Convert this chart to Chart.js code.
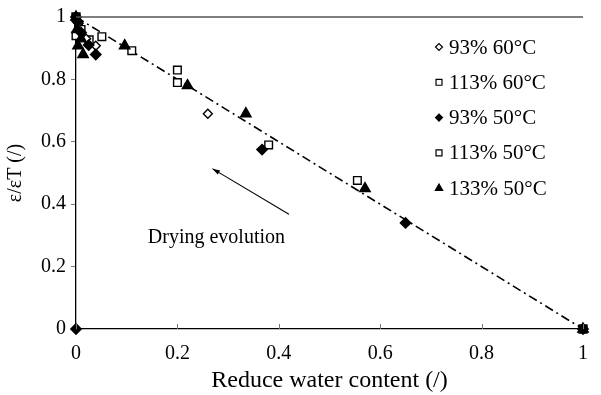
<!DOCTYPE html>
<html lang="en">
<head>
    <meta charset="UTF-8">
    <title>Drying evolution</title>
    <style>
        body { margin: 0; background: #fff; }
        #wrap { width: 601px; height: 395px; }
    </style>
</head>
<body>
    <div id="wrap"><canvas id="chart" width="601" height="395"></canvas></div>

    <script src="https://cdn.jsdelivr.net/npm/chart.js"></script>
    <script>
        // values: [reduce water content, eps/epsT]
        const s93_60 = [[0, 1], [0.005, 0.98], [0.02, 0.93], [0.039, 0.908], [0.26, 0.69]];
        const s113_60 = [[0, 1], [0.01, 0.96], [0.026, 0.927], [0.051, 0.937], [0.2, 0.83], [0.2, 0.79], [1, 0]];
        const s93_50 = [[0, 0], [0, 1], [0.003, 0.985], [0.01, 0.95], [0.025, 0.91], [0.039, 0.88], [0.367, 0.575], [0.65, 0.34], [1, 0]];
        const s113_50 = [[0, 0.94], [0, 1], [0.005, 0.97], [0.11, 0.892], [0.38, 0.59], [0.555, 0.476], [1, 0]];
        const s133_50 = [[0, 1], [0.002, 0.96], [0.004, 0.908], [0.01, 0.93], [0.014, 0.88], [0.096, 0.908], [0.22, 0.78], [0.335, 0.69], [0.57, 0.45], [1, 0]];
        const trend = [[0, 1], [1, 0]];

        const seriesNames = ['93% 60°C', '113% 60°C', '93% 50°C', '113% 50°C', '133% 50°C'];
        const xTicks = [0, 0.2, 0.4, 0.6, 0.8, 1];
        const yTicks = [0, 0.2, 0.4, 0.6, 0.8, 1];

        const FONT = '"Liberation Serif", "Times New Roman", serif';
        const toPts = arr => arr.map(p => ({ x: p[0], y: p[1] }));

        const markers = [
            { pointStyle: 'rectRot', bg: '#fff', r: 4.5 },
            { pointStyle: 'rect', bg: '#fff', r: 5.4 },
            { pointStyle: 'rectRot', bg: '#000', r: 5.2 },
            { pointStyle: 'rect', bg: '#fff', r: 5.4 },
            { pointStyle: 'triangle', bg: '#000', r: 6 }
        ];
        const seriesData = [s93_60, s113_60, s93_50, s113_50, s133_50];

        const datasets = seriesData.map((d, i) => ({
            label: seriesNames[i],
            data: toPts(d),
            pointStyle: markers[i].pointStyle,
            pointRadius: markers[i].r,
            pointBackgroundColor: markers[i].bg,
            pointBorderColor: '#000',
            pointBorderWidth: 1.4,
            showLine: false,
            clip: false,
            // filled markers on top, like the original
            order: markers[i].bg === '#000' ? 0 : 1
        }));
        datasets.push({
            type: 'line',
            label: 'trend',
            data: toPts(trend),
            borderColor: '#000',
            borderWidth: 1.6,
            borderDash: [9, 4, 2, 4],
            pointRadius: 0,
            fill: false,
            order: 2
        });

        const extras = {
            id: 'extras',
            afterDraw(chart) {
                const { ctx, chartArea: a, scales: { x, y } } = chart;
                ctx.save();
                // top line
                ctx.strokeStyle = '#555';
                ctx.lineWidth = 1.5;
                ctx.beginPath();
                ctx.moveTo(a.left, y.getPixelForValue(1));
                ctx.lineTo(a.right, y.getPixelForValue(1));
                ctx.stroke();
                // inward x ticks
                ctx.strokeStyle = '#777';
                ctx.lineWidth = 1;
                xTicks.forEach(v => {
                    const px = Math.round(x.getPixelForValue(v)) + 0.5;
                    ctx.beginPath();
                    ctx.moveTo(px, a.bottom);
                    ctx.lineTo(px, a.bottom - 5);
                    ctx.stroke();
                });
                // arrow
                const x0 = x.getPixelForValue(0.42), y0 = y.getPixelForValue(0.368);
                const x1 = x.getPixelForValue(0.269), y1 = y.getPixelForValue(0.514);
                ctx.strokeStyle = '#000';
                ctx.fillStyle = '#000';
                ctx.lineWidth = 1.1;
                ctx.beginPath();
                ctx.moveTo(x0, y0);
                ctx.lineTo(x1, y1);
                ctx.stroke();
                const ang = Math.atan2(y1 - y0, x1 - x0);
                ctx.beginPath();
                ctx.moveTo(x1, y1);
                ctx.lineTo(x1 - 8 * Math.cos(ang - 0.3), y1 - 8 * Math.sin(ang - 0.3));
                ctx.lineTo(x1 - 8 * Math.cos(ang + 0.3), y1 - 8 * Math.sin(ang + 0.3));
                ctx.closePath();
                ctx.fill();
                // annotation text
                ctx.font = '20px ' + FONT;
                ctx.textAlign = 'center';
                ctx.textBaseline = 'middle';
                ctx.fillText('Drying evolution', x.getPixelForValue(0.277), y.getPixelForValue(0.292));
                // legend inside plot
                ctx.font = '21px ' + FONT;
                ctx.textAlign = 'left';
                seriesNames.forEach((name, i) => {
                    const ly = 47 + i * 35.3;
                    ctx.lineWidth = 1.2;
                    ctx.strokeStyle = '#000';
                    ctx.fillStyle = markers[i].bg;
                    Chart.helpers.drawPoint(ctx, {
                        pointStyle: markers[i].pointStyle,
                        radius: markers[i].pointStyle === 'rectRot' ? 3.5 : 4.2,
                        borderWidth: 1.2
                    }, 439, ly);
                    ctx.fillStyle = '#000';
                    ctx.fillText(name, 449, ly + 1);
                });
                ctx.restore();
            }
        };

        new Chart(document.getElementById('chart'), {
            type: 'scatter',
            data: { datasets },
            options: {
                responsive: false,
                animation: false,
                layout: { padding: { left: 0, right: 16, top: 14, bottom: 0 } },
                plugins: { legend: { display: false }, tooltip: { enabled: false } },
                scales: {
                    x: {
                        type: 'linear',
                        min: 0, max: 1,
                        afterBuildTicks: s => { s.ticks = xTicks.map(v => ({ value: v })); },
                        afterFit: s => { s.height = 66; },
                        grid: { drawOnChartArea: false, drawTicks: false },
                        border: { color: '#000', width: 1.3 },
                        ticks: { color: '#000', padding: 13, font: { family: FONT, size: 20 }, maxRotation: 0, callback: v => String(v) },
                        title: { display: true, text: 'Reduce water content (/)', color: '#000', font: { family: FONT, size: 24 }, padding: { top: 0, bottom: 0 } }
                    },
                    y: {
                        type: 'linear',
                        min: 0, max: 1,
                        afterBuildTicks: s => { s.ticks = yTicks.map(v => ({ value: v })); },
                        afterFit: s => { s.width = 76; },
                        grid: { drawOnChartArea: false, drawTicks: true, tickLength: 5, color: '#777' },
                        border: { color: '#000', width: 1.3 },
                        ticks: { color: '#000', padding: 5, font: { family: FONT, size: 20 }, callback: v => String(v) },
                        title: { display: true, text: 'ε/εT (/)', color: '#000', font: { family: FONT, size: 20 }, padding: { top: 4, bottom: 0 } }
                    }
                }
            },
            plugins: [extras]
        });
    </script>
</body>
</html>
